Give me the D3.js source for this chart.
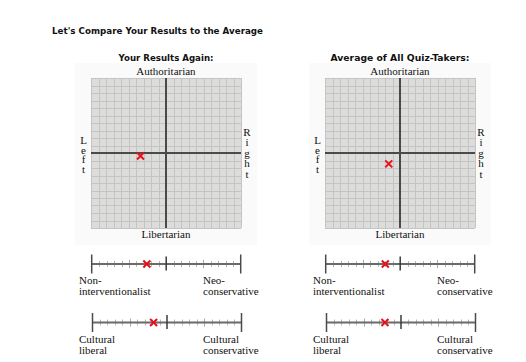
<!DOCTYPE html>
<html><head><meta charset="utf-8">
<script src="https://cdn.jsdelivr.net/npm/d3@7"></script>
<style>body{margin:0;background:#fff}</style>
</head><body>
<script>
// ---- data ----
const pageTitle = "Let's Compare Your Results to the Average";
const panelTitles = ["Your Results Again:", "Average of All Quiz-Takers:"];
const economic = [-3.4, -1.5];      // Left (-) .. Right (+)
const social = [-0.4, -1.45];       // Libertarian (-) .. Authoritarian (+)
const foreignPolicy = [-2.6, -2.0]; // Non-interventionalist (-) .. Neo-conservative (+)
const cultural = [-1.8, -2.15];     // Cultural liberal (-) .. Cultural conservative (+)
const gridTicks = d3.range(-10, 11, 1);
const lineTicks = d3.range(-10, 11, 1);
const axisLabels = {top: "Authoritarian", bottom: "Libertarian", left: "Left", right: "Right"};
const lineLabels = [
  [["Non-", "interventionalist"], ["Neo-", "conservative"]],
  [["Cultural", "liberal"], ["Cultural", "conservative"]]
];

const W = 526, H = 362;
const svg = d3.select("body").append("svg").attr("width", W).attr("height", H);
const serif = "'Liberation Serif','Times New Roman',serif";
const sans = "'DejaVu Sans',Verdana,sans-serif";

svg.append("text").attr("x", 52).attr("y", 33.5)
  .attr("font-family", sans).attr("font-weight", "bold").attr("font-size", 9)
  .attr("textLength", 211).attr("lengthAdjust", "spacingAndGlyphs")
  .attr("fill", "#111").text(pageTitle);

const panelX = [91, 325];
const titleW = [95, 139];
const gy0 = 78, size = 150;

function cross(g, cx, cy) {
  const r = 3.5;
  g.append("path").attr("d", `M${cx-r},${cy-r}L${cx+r},${cy+r}M${cx-r},${cy+r}L${cx+r},${cy-r}`)
    .attr("stroke", "#e8101a").attr("stroke-width", 2).attr("fill", "none");
}

function verticalWord(g, word, x, yTop, spacing) {
  g.append("text").attr("x", x).attr("y", yTop)
    .style("writing-mode", "vertical-rl").style("text-orientation", "upright")
    .style("letter-spacing", spacing + "px")
    .attr("font-family", serif).attr("font-size", 11).attr("fill", "#111").text(word);
}

panelX.forEach((gx0, i) => {
  const g = svg.append("g");
  const cxm = gx0 + size / 2;
  g.append("rect").attr("x", gx0 - 16).attr("y", 63).attr("width", size + 32).attr("height", 182).attr("fill", "#fafafa");
  g.append("text").attr("x", cxm).attr("y", 61).attr("text-anchor", "middle")
    .attr("font-family", sans).attr("font-weight", "bold").attr("font-size", 9)
    .attr("textLength", titleW[i]).attr("lengthAdjust", "spacingAndGlyphs")
    .attr("fill", "#111").text(panelTitles[i]);

  const x = d3.scaleLinear().domain([-10, 10]).range([gx0, gx0 + size]);
  const y = d3.scaleLinear().domain([-10, 10]).range([gy0 + size, gy0]);

  g.append("rect").attr("x", gx0).attr("y", gy0).attr("width", size).attr("height", size).attr("fill", "#dcdcda");
  g.selectAll(".gv").data(gridTicks).join("line")
    .attr("x1", d => Math.round(x(d)) + 0.5).attr("x2", d => Math.round(x(d)) + 0.5)
    .attr("y1", gy0).attr("y2", gy0 + size).attr("stroke", "#c4c4c4").attr("stroke-width", 1);
  g.selectAll(".gh").data(gridTicks).join("line")
    .attr("y1", d => Math.round(y(d)) + 0.5).attr("y2", d => Math.round(y(d)) + 0.5)
    .attr("x1", gx0).attr("x2", gx0 + size).attr("stroke", "#c4c4c4").attr("stroke-width", 1);
  g.append("line").attr("x1", x(0)).attr("x2", x(0)).attr("y1", gy0).attr("y2", gy0 + size)
    .attr("stroke", "#4a4a4a").attr("stroke-width", 2);
  g.append("line").attr("y1", y(0)).attr("y2", y(0)).attr("x1", gx0).attr("x2", gx0 + size)
    .attr("stroke", "#4a4a4a").attr("stroke-width", 2);

  g.append("text").attr("x", cxm).attr("y", 74.5).attr("text-anchor", "middle")
    .attr("font-family", serif).attr("font-size", 11).attr("fill", "#111").text(axisLabels.top);
  g.append("text").attr("x", cxm).attr("y", 238).attr("text-anchor", "middle")
    .attr("font-family", serif).attr("font-size", 11).attr("fill", "#111").text(axisLabels.bottom);
  verticalWord(g, axisLabels.left, gx0 - 7.5, 134, -2.5);
  verticalWord(g, axisLabels.right, gx0 + size + 6, 125.5, -1.5);

  cross(g, x(economic[i]), y(social[i]));

  // 1-D scales
  const lineVals = [foreignPolicy[i], cultural[i]];
  const lineY = [264, 322.5];
  const lineOff = [0.7, 1.5];
  lineVals.forEach((v, j) => {
    const lx = d3.scaleLinear().domain([-10, 10]).range([gx0 + lineOff[j], gx0 + lineOff[j] + 149]);
    const ly = lineY[j];
    g.selectAll(null).data(lineTicks.filter(t => Math.abs(t) !== 10 && t !== 0)).join("line")
      .attr("x1", t => Math.round(lx(t)) + 0.5).attr("x2", t => Math.round(lx(t)) + 0.5)
      .attr("y1", t => ly - (Math.abs(t) === 5 ? 4 : 3)).attr("y2", t => ly + (Math.abs(t) === 5 ? 4 : 3))
      .attr("stroke", t => Math.abs(t) === 5 ? "#a8a8a8" : "#b8b8b8").attr("stroke-width", 1);
    g.append("line").attr("x1", lx(-10)).attr("x2", lx(10)).attr("y1", ly).attr("y2", ly)
      .attr("stroke", "#6a6a6a").attr("stroke-width", 2);
    [-10, 10].forEach(t => g.append("line").attr("x1", lx(t)).attr("x2", lx(t))
      .attr("y1", ly - 9.5).attr("y2", ly + 9.5).attr("stroke", "#4a4a4a").attr("stroke-width", 1.5));
    g.append("line").attr("x1", lx(0)).attr("x2", lx(0))
      .attr("y1", ly - 7.5).attr("y2", ly + 6.5).attr("stroke", "#3a3a3a").attr("stroke-width", 1.5);
    cross(g, lx(v), ly);

    const labs = lineLabels[j];
    [0, 1].forEach(s => {
      const t = g.append("text").attr("x", s === 0 ? gx0 - 12 : gx0 + 112)
        .attr("y", ly + 20)
        .attr("font-family", serif).attr("font-size", 11).attr("fill", "#111");
      labs[s].forEach((txt, r) => {
        t.append("tspan").attr("x", s === 0 ? gx0 - 12 : gx0 + 112).attr("dy", r === 0 ? 0 : 11).text(txt);
      });
    });
  });
});
</script>
</body></html>
